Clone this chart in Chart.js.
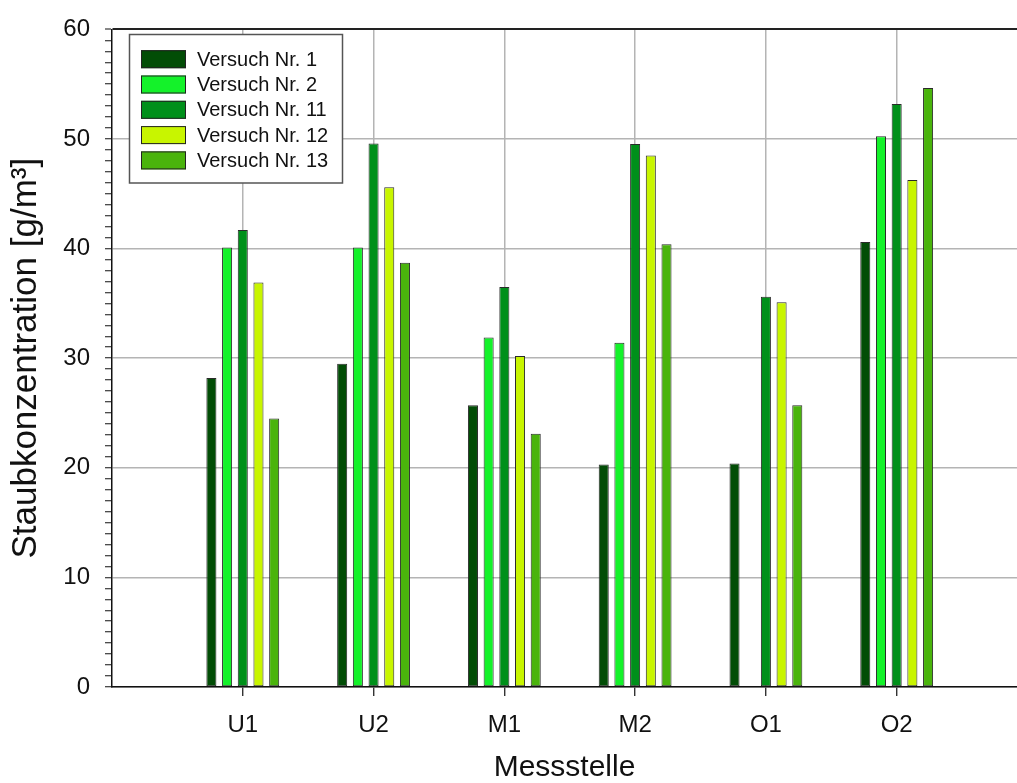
<!DOCTYPE html>
<html><head><meta charset="utf-8">
<script src="https://cdn.jsdelivr.net/npm/chart.js@4.4.1/dist/chart.umd.min.js"></script>
<style>html,body{margin:0;padding:0;background:#fff;overflow:hidden}#wrap{width:1017px;height:783px;position:relative}</style>
</head><body><div id="wrap"><canvas id="c" width="1017" height="783"></canvas></div>
<script>
const categories = ['U1', 'U2', 'M1', 'M2', 'O1', 'O2'];
const seriesNames = ['Versuch Nr. 1', 'Versuch Nr. 2', 'Versuch Nr. 11', 'Versuch Nr. 12', 'Versuch Nr. 13'];
const versuch1  = [28.2, 29.5, 25.7, 20.3, 20.4, 40.6];
const versuch2  = [40.1, 40.1, 31.9, 31.4, null, 50.25];
const versuch11 = [41.7, 49.6, 36.5, 49.55, 35.6, 53.2];
const versuch12 = [36.9, 45.6, 30.2, 48.5, 35.1, 46.25];
const versuch13 = [24.5, 38.7, 23.1, 40.4, 25.7, 54.65];
const yTickLabels = [0, 10, 20, 30, 40, 50, 60];
const seriesColors = ['#024d06', '#14f22a', '#00901a', '#c8f500', '#4ab40c'];

const FAMILY = '"Liberation Sans", Arial, Helvetica, sans-serif';
const allSeries = [versuch1, versuch2, versuch11, versuch12, versuch13];

const datasets = allSeries.map((vals, i) => ({
  label: seriesNames[i],
  data: vals.map((v, j) => ({ x: j + 1, y: v })),
  backgroundColor: seriesColors[i],
  borderColor: '#2a2a2a',
  borderWidth: 1,
  borderSkipped: false,
  categoryPercentage: 0.6,
  barPercentage: 0.64
}));

const boxLegend = {
  id: 'boxLegend',
  afterDatasetsDraw(chart) {
    const ctx = chart.ctx;
    const a = chart.chartArea;
    const bx = a.left + 17.5, by = 34.5, bw = 213, bh = 148.5;
    ctx.save();
    ctx.fillStyle = '#fff';
    ctx.fillRect(bx, by, bw, bh);
    ctx.strokeStyle = '#555';
    ctx.lineWidth = 1.5;
    ctx.strokeRect(bx, by, bw, bh);
    ctx.font = '20px ' + FAMILY;
    ctx.textBaseline = 'middle';
    chart.data.datasets.forEach((ds, i) => {
      const cy = 59.2 + i * 25.3;
      ctx.fillStyle = ds.backgroundColor;
      ctx.fillRect(bx + 11.5, cy - 9, 45, 18);
      ctx.strokeStyle = '#222';
      ctx.lineWidth = 1;
      ctx.strokeRect(bx + 12, cy - 8.5, 44, 17);
      ctx.fillStyle = '#111';
      ctx.fillText(ds.label, bx + 67.5, cy + 1);
    });
    ctx.restore();
  }
};

new Chart(document.getElementById('c'), {
  type: 'bar',
  data: { datasets },
  plugins: [boxLegend],
  options: {
    responsive: false,
    animation: false,
    layout: { padding: { top: 26, right: 0, left: 0, bottom: 0 } },
    plugins: { legend: { display: false }, tooltip: { enabled: false } },
    scales: {
      x: {
        type: 'linear',
        min: 0,
        max: 6.92,
        offset: false,
        afterBuildTicks(s) { s.ticks = categories.map((c, i) => ({ value: i + 1 })); },
        afterFit(s) { s.height = 96; },
        ticks: {
          callback: (v) => categories[v - 1] ?? '',
          font: { size: 24, family: FAMILY },
          color: '#111',
          padding: 15,
          maxRotation: 0,
          autoSkip: false
        },
        grid: { offset: false, color: '#b4b4b4', lineWidth: 1.5, tickColor: '#111', tickLength: 9, tickWidth: 1.2 },
        border: { color: '#111', width: 1.5 },
        title: { display: true, text: 'Messstelle', font: { size: 30, family: FAMILY, lineHeight: 1 }, color: '#111', padding: { top: 0, bottom: 0 } }
      },
      y: {
        min: 0,
        max: 60,
        afterFit(s) { s.width = 112; },
        ticks: {
          stepSize: 1,
          autoSkip: false,
          callback: (v) => yTickLabels.includes(v) ? String(v) : '',
          font: { size: 24, family: FAMILY },
          color: '#111',
          padding: 15
        },
        grid: {
          offset: false,
          color: (c) => c.tick && c.tick.value === 60 ? '#222' : (c.tick && yTickLabels.includes(c.tick.value) ? '#b4b4b4' : 'rgba(0,0,0,0)'),
          lineWidth: (c) => c.tick && c.tick.value === 60 ? 2 : 1.5,
          tickColor: '#111',
          tickLength: 7,
          tickWidth: 1
        },
        border: { color: '#111', width: 1.5 },
        title: { display: true, text: 'Staubkonzentration [g/m³]', font: { size: 35, family: FAMILY, lineHeight: 1 }, color: '#111', padding: { top: 9, bottom: 0 } }
      }
    }
  }
});
</script>
</body></html>
